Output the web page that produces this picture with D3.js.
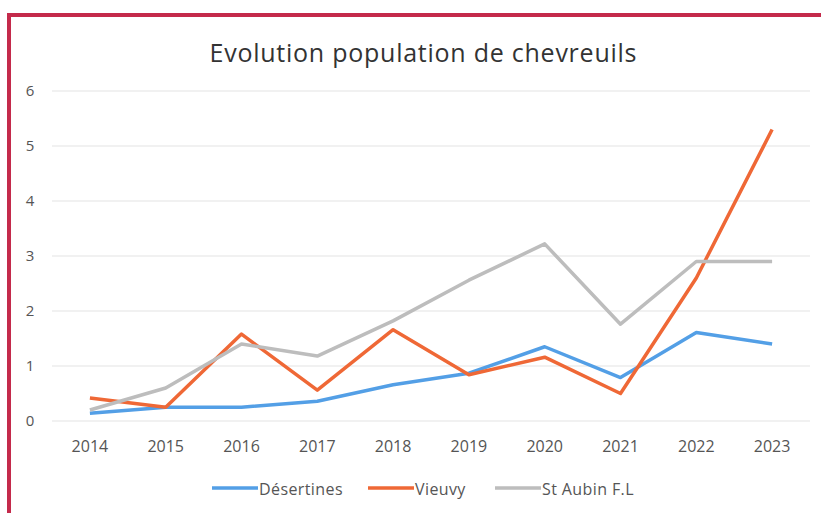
<!DOCTYPE html>
<html>
<head>
<meta charset="utf-8">
<script src="https://cdn.jsdelivr.net/npm/d3@7"></script>
<style>
  body { margin: 0; background: #fff; }
  text { font-family: "Open Sans", "Noto Sans", sans-serif; }
</style>
</head>
<body>
<div id="chart"></div>
<script>
const years = [2014, 2015, 2016, 2017, 2018, 2019, 2020, 2021, 2022, 2023];
const desertines = [0.14, 0.25, 0.25, 0.36, 0.66, 0.87, 1.35, 0.79, 1.61, 1.4];
const vieuvy = [0.42, 0.25, 1.58, 0.56, 1.66, 0.84, 1.16, 0.5, 2.6, 5.3];
const stAubin = [0.2, 0.6, 1.4, 1.18, 1.82, 2.56, 3.22, 1.76, 2.9, 2.9];
const yTicks = [0, 1, 2, 3, 4, 5, 6];

const series = [
  { name: `Désertines`, values: desertines, color: `#539fe6` },
  { name: `Vieuvy`, values: vieuvy, color: `#ef6836` },
  { name: `St Aubin F.L`, values: stAubin, color: `#bdbdbd` },
];

const width = 821, height = 513;
const margin = { top: 91, right: 11, bottom: 92, left: 52 };

const svg = d3.select(`#chart`).append(`svg`)
  .attr(`width`, width).attr(`height`, height);

// red frame (scan border)
svg.append(`line`).attr(`x1`, 7).attr(`x2`, width).attr(`y1`, 15).attr(`y2`, 15)
  .attr(`stroke`, `#c42a4b`).attr(`stroke-width`, 4);
svg.append(`line`).attr(`x1`, 9).attr(`x2`, 9).attr(`y1`, 13).attr(`y2`, height)
  .attr(`stroke`, `#c42a4b`).attr(`stroke-width`, 4);

svg.append(`text`)
  .attr(`x`, 423).attr(`y`, 62)
  .attr(`text-anchor`, `middle`)
  .attr(`textLength`, 427)
  .style(`font-size`, `25px`)
  .style(`fill`, `#333`)
  .text(`Evolution population de chevreuils`);

const xScale = d3.scaleBand()
  .domain(years)
  .range([margin.left, width - margin.right]);

const yScale = d3.scaleLinear()
  .domain([0, 6])
  .range([height - margin.bottom, margin.top]);

// gridlines
svg.append(`g`)
  .selectAll(`line`)
  .data(yTicks)
  .join(`line`)
  .attr(`x1`, margin.left)
  .attr(`x2`, width - margin.right)
  .attr(`y1`, (d) => yScale(d))
  .attr(`y2`, (d) => yScale(d))
  .attr(`stroke`, `#ededed`)
  .attr(`stroke-width`, 1.5);

// y labels
svg.append(`g`)
  .selectAll(`text`)
  .data(yTicks)
  .join(`text`)
  .attr(`x`, 30)
  .attr(`y`, (d) => yScale(d) + 5)
  .attr(`text-anchor`, `middle`)
  .style(`font-size`, `15px`)
  .style(`fill`, `#555`)
  .text((d) => d);

// x axis labels
const xAxis = svg.append(`g`)
  .attr(`transform`, `translate(0, ${height - margin.bottom})`)
  .call(d3.axisBottom(xScale).tickSize(0).tickPadding(20));
xAxis.select(`.domain`).remove();
xAxis.selectAll(`text`)
  .style(`font-size`, `16px`)
  .style(`font-family`, `"Open Sans", "Noto Sans", sans-serif`)
  .style(`fill`, `#555`);

const line = d3.line()
  .x((d, i) => xScale(years[i]) + xScale.bandwidth() / 2)
  .y((d) => yScale(d));

svg.append(`g`)
  .selectAll(`path`)
  .data(series)
  .join(`path`)
  .attr(`d`, (d) => line(d.values))
  .attr(`fill`, `none`)
  .attr(`stroke`, (d) => d.color)
  .attr(`stroke-width`, 3.5)
  .attr(`stroke-linejoin`, `round`);

// legend
const legendX = [212, 368, 495];
const legend = svg.append(`g`)
  .selectAll(`g`)
  .data(series)
  .join(`g`)
  .attr(`transform`, (d, i) => `translate(${legendX[i]}, 488)`);
legend.append(`line`)
  .attr(`x1`, 0).attr(`x2`, 46)
  .attr(`stroke`, (d) => d.color)
  .attr(`stroke-width`, 3.5);
legend.append(`text`)
  .attr(`x`, 47).attr(`y`, 7)
  .style(`font-size`, `16px`)
  .style(`letter-spacing`, `0.4px`)
  .style(`fill`, `#555`)
  .text((d) => d.name);
</script>
</body>
</html>
